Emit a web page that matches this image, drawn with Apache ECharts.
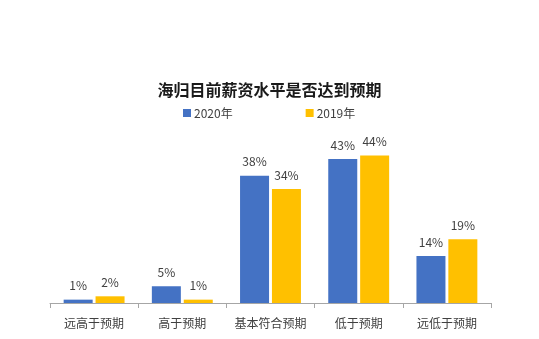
<!DOCTYPE html>
<html><head><meta charset="utf-8">
<script src="https://cdn.jsdelivr.net/npm/echarts@6/dist/echarts.min.js"></script>
<style>html,body{margin:0;padding:0;background:#fff}#c{width:539px;height:339px}</style>
</head><body><div id="c"></div>
<script>
var categories = ['远高于预期','高于预期','基本符合预期','低于预期','远低于预期'];
var series2020 = [1,5,38,43,14];
var series2019 = [2,1,34,44,19];
var seriesNames = ['2020年','2019年'];
var chart = echarts.init(document.getElementById('c'));
var font = '"Noto Sans CJK SC", "Noto Sans", sans-serif';
var lbl = {show:true, position:'top', distance:8, color:'#404040', fontSize:12, fontFamily:font, formatter:'{c}%'};
chart.setOption({
  animation:false,
  title:{text:'海归目前薪资水平是否达到预期', left:'center', top:77,
    textStyle:{fontSize:16, fontWeight:'bold', color:'#1a1a1a', fontFamily:font}},
  legend:{left:183, top:107, padding:0, itemWidth:8, itemHeight:8, itemGap:73, icon:'rect',
    textStyle:{fontSize:12, color:'#404040', fontFamily:font, padding:[0,0,0,-2]},
    data:seriesNames},
  grid:{left:50, right:48, top:135.5, bottom:36, containLabel:false},
  xAxis:{type:'category', data:categories,
    axisLine:{lineStyle:{color:'#a6a6a6', width:1}},
    axisTick:{show:true, length:5, lineStyle:{color:'#a6a6a6'}},
    axisLabel:{interval:0, fontSize:12, color:'#404040', fontFamily:font, margin:14}},
  yAxis:{type:'value', min:0, max:50, show:false, splitLine:{show:false}},
  series:[
    {name:seriesNames[0], type:'bar', data:series2020, barWidth:29, barGap:'10%',
      itemStyle:{color:'#4472C4'}, label:lbl},
    {name:seriesNames[1], type:'bar', data:series2019, barWidth:29, barGap:'10%',
      itemStyle:{color:'#FFC000'}, label:lbl}
  ]
});
</script></body></html>
